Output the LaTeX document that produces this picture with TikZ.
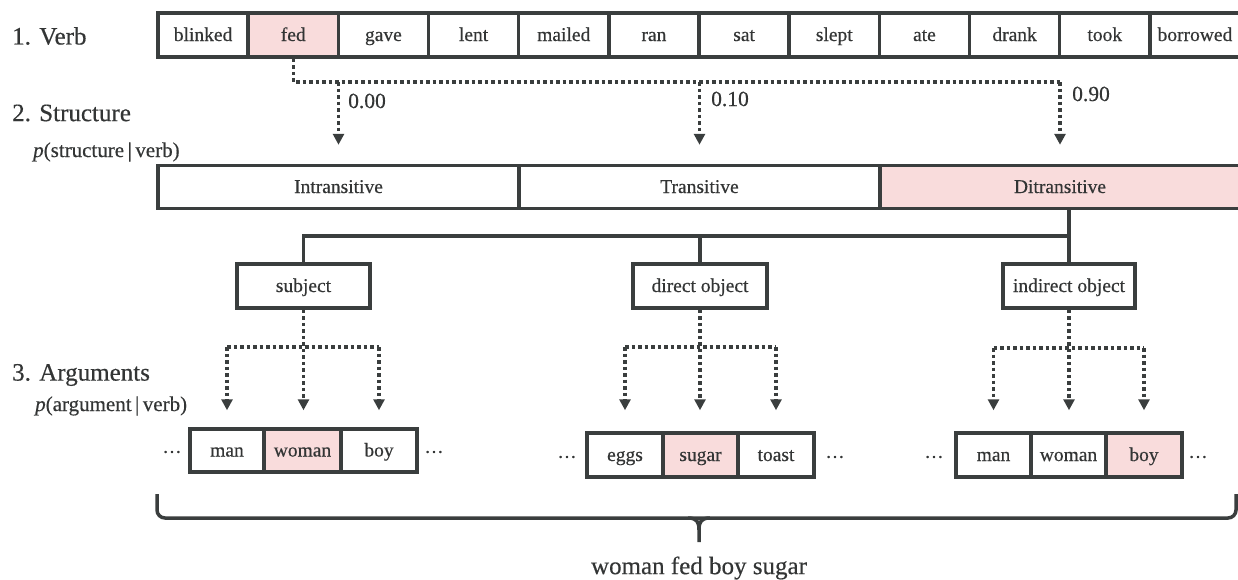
\documentclass[tikz,border=0pt]{standalone}
\usepackage{fontspec}
\setmainfont{Liberation Serif}[FakeBold=0.45]
\usetikzlibrary{arrows.meta}
\definecolor{lc}{RGB}{58,62,62}
\definecolor{pk}{RGB}{249,220,220}
\definecolor{tc}{RGB}{51,53,53}
\begin{document}
\begin{tikzpicture}[x=1pt,y=-1pt,
  bx/.style={draw=lc,line width=3.5pt,text=tc,inner sep=0pt,fill=white,
    font=\fontsize{19.5}{22}\selectfont,text height=14pt,text depth=2pt},
  hl/.style={fill=pk},
  hdr/.style={anchor=west,text=tc,inner sep=0pt,font=\fontsize{25}{28}\selectfont},
  sub/.style={anchor=west,text=tc,inner sep=0pt,font=\fontsize{21}{24}\selectfont},
  num/.style={anchor=west,text=tc,inner sep=0pt,font=\fontsize{21.5}{24}\selectfont},
  dots/.style={text=tc,inner sep=0pt,font=\fontsize{19}{20}\selectfont},
  tree/.style={draw=lc,line width=3.5pt},
  dotl/.style={draw=lc,line width=3.4pt,dash pattern=on 3.5pt off 3pt},
  darr/.style={dotl,-{Triangle[width=11pt,length=11pt]}},
]
\useasboundingbox (0,0) rectangle (1238,579);

% labels
\node[hdr] (l1) at (12,36) {1. Verb};
\node[hdr] (l2) at (12,113) {2. Structure};
\node[sub] (l2p) at (33,152) {\textit{p}(structure\,|\,verb)};
\node[hdr] (l3) at (12,375) {3. Arguments};
\node[sub] (l3p) at (35,406) {\textit{p}(argument\,|\,verb)};

% verbs
\foreach \t/\c [count=\i from 0] in {blinked/white,fed/pk,gave/white,lent/white,mailed/white,ran/white,sat/white,slept/white,ate/white,drank/white,took/white,borrowed/white}{
  \node[bx,fill=\c,minimum width=90.17pt,minimum height=44pt] (v\i) at ({158+90.17*(\i+0.5)},35) {\t};
}

% structures
\node[bx,minimum width=361pt,minimum height=43pt] (intr) at (338.5,187) {Intransitive};
\node[bx,minimum width=361pt,minimum height=43pt] (tran) at (699.5,187) {Transitive};
\node[bx,hl,minimum width=360pt,minimum height=43pt] (ditr) at (1060,187) {Ditransitive};

% verb -> structure
\coordinate (vj) at (293,82);
\coordinate (va) at (338.5,82);
\coordinate (vb) at (699.5,82);
\coordinate (vc) at (1060,82);
\draw[dotl] (v1.south) -- (v1.south |- vj) -- (vc);
\draw[darr,shorten >=19pt] (va) -- (intr.north);
\draw[darr,shorten >=19pt] (vb) -- (tran.north);
\draw[darr,shorten >=19pt] (vc) -- (ditr.north);
\node[num] (n1) at (348,101) {0.00};
\node[num] (n2) at (711,99) {0.10};
\node[num] (n3) at (1072,94) {0.90};

% argument roles
\node[bx,minimum width=133pt,minimum height=44pt] (subj) at (303.5,286) {subject};
\node[bx,minimum width=134pt,minimum height=44pt] (dobj) at (700,286) {direct object};
\node[bx,minimum width=132pt,minimum height=44pt] (iobj) at (1069,286) {indirect object};

\coordinate (bar) at (0,236);
\draw[tree] (subj.north) |- (bar -| iobj.north) -- (ditr.south -| iobj.north);
\draw[tree] (bar -| iobj.north) -- (iobj.north);
\draw[tree] (dobj.north) -- (dobj.north |- bar);

% subject fillers
\node[bx,minimum width=74pt,minimum height=43pt] (sman) at (227,450.5) {man};
\node[bx,hl,minimum width=77pt,minimum height=43pt] (swom) at (302.5,450.5) {woman};
\node[bx,minimum width=76pt,minimum height=43pt] (sboy) at (379,450.5) {boy};
\node[dots] (se1) at (172,452) {\ldots};
\node[dots] (se2) at (434,452) {\ldots};

% direct object fillers
\node[bx,minimum width=76pt,minimum height=44pt] (degg) at (625,455) {eggs};
\node[bx,hl,minimum width=75pt,minimum height=44pt] (dsug) at (700.5,455) {sugar};
\node[bx,minimum width=76pt,minimum height=44pt] (dtoa) at (776,455) {toast};
\node[dots] (de1) at (567,457) {\ldots};
\node[dots] (de2) at (835,457) {\ldots};

% indirect object fillers
\node[bx,minimum width=75pt,minimum height=44pt] (iman) at (993.5,455) {man};
\node[bx,minimum width=75pt,minimum height=44pt] (iwom) at (1068.5,455) {woman};
\node[bx,hl,minimum width=76pt,minimum height=44pt] (iboy) at (1144,455) {boy};
\node[dots] (ie1) at (934,457) {\ldots};
\node[dots] (ie2) at (1198,457) {\ldots};

% role -> fillers
\coordinate (sl) at (227,347);
\coordinate (sr) at (379,347);
\draw[dotl] (sl) -- (sr);
\draw[darr,shorten >=17pt] (subj.south) -- (subj.south |- swom.north);
\draw[darr,shorten >=17pt] (sl) -- (sman.north);
\draw[darr,shorten >=17pt] (sr) -- (sboy.north);

\coordinate (dl) at (625,347);
\coordinate (dr) at (776,347);
\draw[dotl] (dl) -- (dr);
\draw[darr,shorten >=21pt] (dobj.south) -- (dobj.south |- dsug.north);
\draw[darr,shorten >=21pt] (dl) -- (degg.north);
\draw[darr,shorten >=21pt] (dr) -- (dtoa.north);

\coordinate (il) at (993.5,348);
\coordinate (ir) at (1144,348);
\draw[dotl] (il) -- (ir);
\draw[darr,shorten >=21pt] (iobj.south) -- (iobj.south |- iwom.north);
\draw[darr,shorten >=21pt] (il) -- (iman.north);
\draw[darr,shorten >=21pt] (ir) -- (iboy.north);

% brace
\coordinate (bl) at (157,494);
\coordinate (br) at (1236,494);
\coordinate (bt) at (699,542);
\draw[tree,rounded corners=8pt] (bl) -- (157,518) -- (1236,518) -- (br);
\draw[tree] (688,518) .. controls (697,518) and (699,522) .. (699,530) -- (bt);
\draw[tree] (710,518) .. controls (701,518) and (699,522) .. (699,530);
\node[text=tc,inner sep=0pt,font=\fontsize{25}{28}\selectfont] (res) at (699,568) {woman fed boy sugar};
\end{tikzpicture}
\end{document}
